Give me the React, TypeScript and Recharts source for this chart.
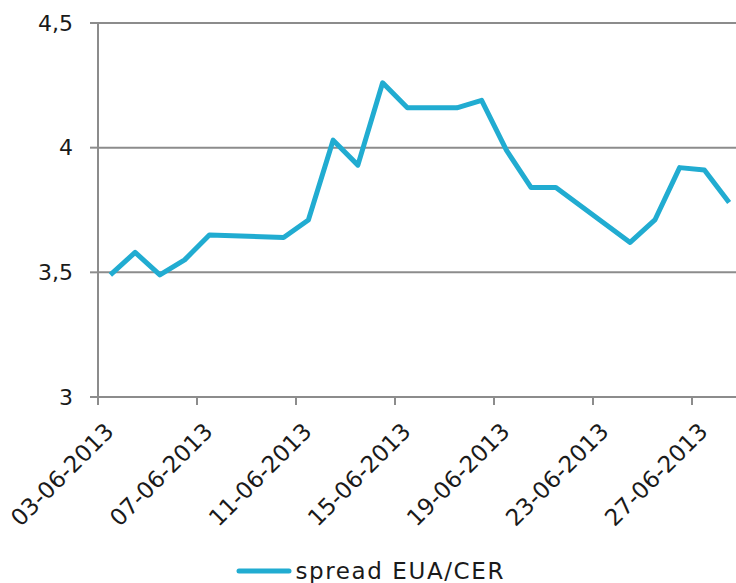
import {
  LineChart,
  Line,
  XAxis,
  YAxis,
  CartesianGrid,
  Legend,
} from "recharts";

// trading days (dd-mm-yyyy) and spread values
const dates = [
  "03-06-2013", "04-06-2013", "05-06-2013", "06-06-2013", "07-06-2013",
  "10-06-2013", "11-06-2013", "12-06-2013", "13-06-2013", "14-06-2013",
  "15-06-2013", "17-06-2013", "18-06-2013", "19-06-2013", "20-06-2013",
  "21-06-2013", "24-06-2013", "25-06-2013", "26-06-2013", "27-06-2013",
  "28-06-2013",
];
const spread = [
  3.49, 3.58, 3.49, 3.55, 3.65,
  3.64, 3.71, 4.03, 3.93, 4.26,
  4.16, 4.16, 4.19, 3.99, 3.84,
  3.84, 3.62, 3.71, 3.92, 3.91,
  3.78,
];
const tickLabels = [
  "03-06-2013", "07-06-2013", "11-06-2013", "15-06-2013",
  "19-06-2013", "23-06-2013", "27-06-2013",
];
const yTicks = [3, 3.5, 4, 4.5];
const seriesName = "spread EUA/CER";

const dayOf = (d: string) => parseInt(d.slice(0, 2), 10);

const data = dates.map((d, i) => ({ day: dayOf(d), value: spread[i] }));
// excel date axis: tick sits on the left edge of the day slot
const xTicks = tickLabels.map((d) => dayOf(d) - 0.5);

const FONT = "'DejaVu Sans', sans-serif";
const GRID = "#8c8c8c";
const BLUE = "#21acd1";

const XTick = (props: any) => {
  const { x, y, payload } = props;
  const label = tickLabels[xTicks.indexOf(payload.value)] ?? "";
  const ax = x + 17;
  const ay = y + 26;
  return (
    <text
      x={ax}
      y={ay}
      transform={`rotate(-45, ${ax}, ${ay})`}
      textAnchor="end"
      fontFamily={FONT}
      fontSize={23}
      fill="#1a1a1a"
    >
      {label}
    </text>
  );
};

const LegendBox = () => (
  <div
    style={{
      display: "flex",
      justifyContent: "center",
      alignItems: "center",
      height: 24,
      fontFamily: FONT,
      fontSize: 23,
      color: "#1a1a1a",
    }}
  >
    <svg width={56} height={10} style={{ marginRight: 3 }}>
      <line x1={3} y1={5} x2={53} y2={5} stroke={BLUE} strokeWidth={5} strokeLinecap="round" />
    </svg>
    <span style={{ letterSpacing: 1.6 }}>{seriesName}</span>
  </div>
);

export default function App() {
  return (
    <div
      style={{
        position: "absolute",
        left: 0,
        top: 0,
        width: 736,
        height: 583,
        overflow: "hidden",
        background: "#fff",
      }}
    >
      <LineChart
        width={750}
        height={583}
        data={data}
        margin={{ top: 23, right: 8.5, left: 0, bottom: 0 }}
      >
        <CartesianGrid vertical={false} stroke={GRID} strokeWidth={2} />
        <XAxis
          dataKey="day"
          type="number"
          domain={[2.5, 28.5]}
          ticks={xTicks}
          interval={0}
          height={162}
          tick={<XTick />}
          tickLine={{ stroke: GRID, strokeWidth: 2 }}
          tickSize={8}
          axisLine={{ stroke: GRID, strokeWidth: 2 }}
        />
        <YAxis
          type="number"
          domain={[3, 4.5]}
          ticks={yTicks}
          width={98}
          tickFormatter={(v: number) => String(v).replace(".", ",")}
          tick={{ fontFamily: FONT, fontSize: 22, fill: "#1a1a1a" }}
          tickLine={{ stroke: GRID, strokeWidth: 2 }}
          tickSize={8}
          tickMargin={17}
          axisLine={{ stroke: GRID, strokeWidth: 2 }}
        />
        <Legend
          verticalAlign="bottom"
          content={<LegendBox />}
          wrapperStyle={{ height: 24 }}
        />
        <Line
          type="linear"
          dataKey="value"
          name={seriesName}
          stroke={BLUE}
          strokeWidth={5}
          strokeLinejoin="round"
          dot={false}
          activeDot={false}
          isAnimationActive={false}
        />
      </LineChart>
    </div>
  );
}
